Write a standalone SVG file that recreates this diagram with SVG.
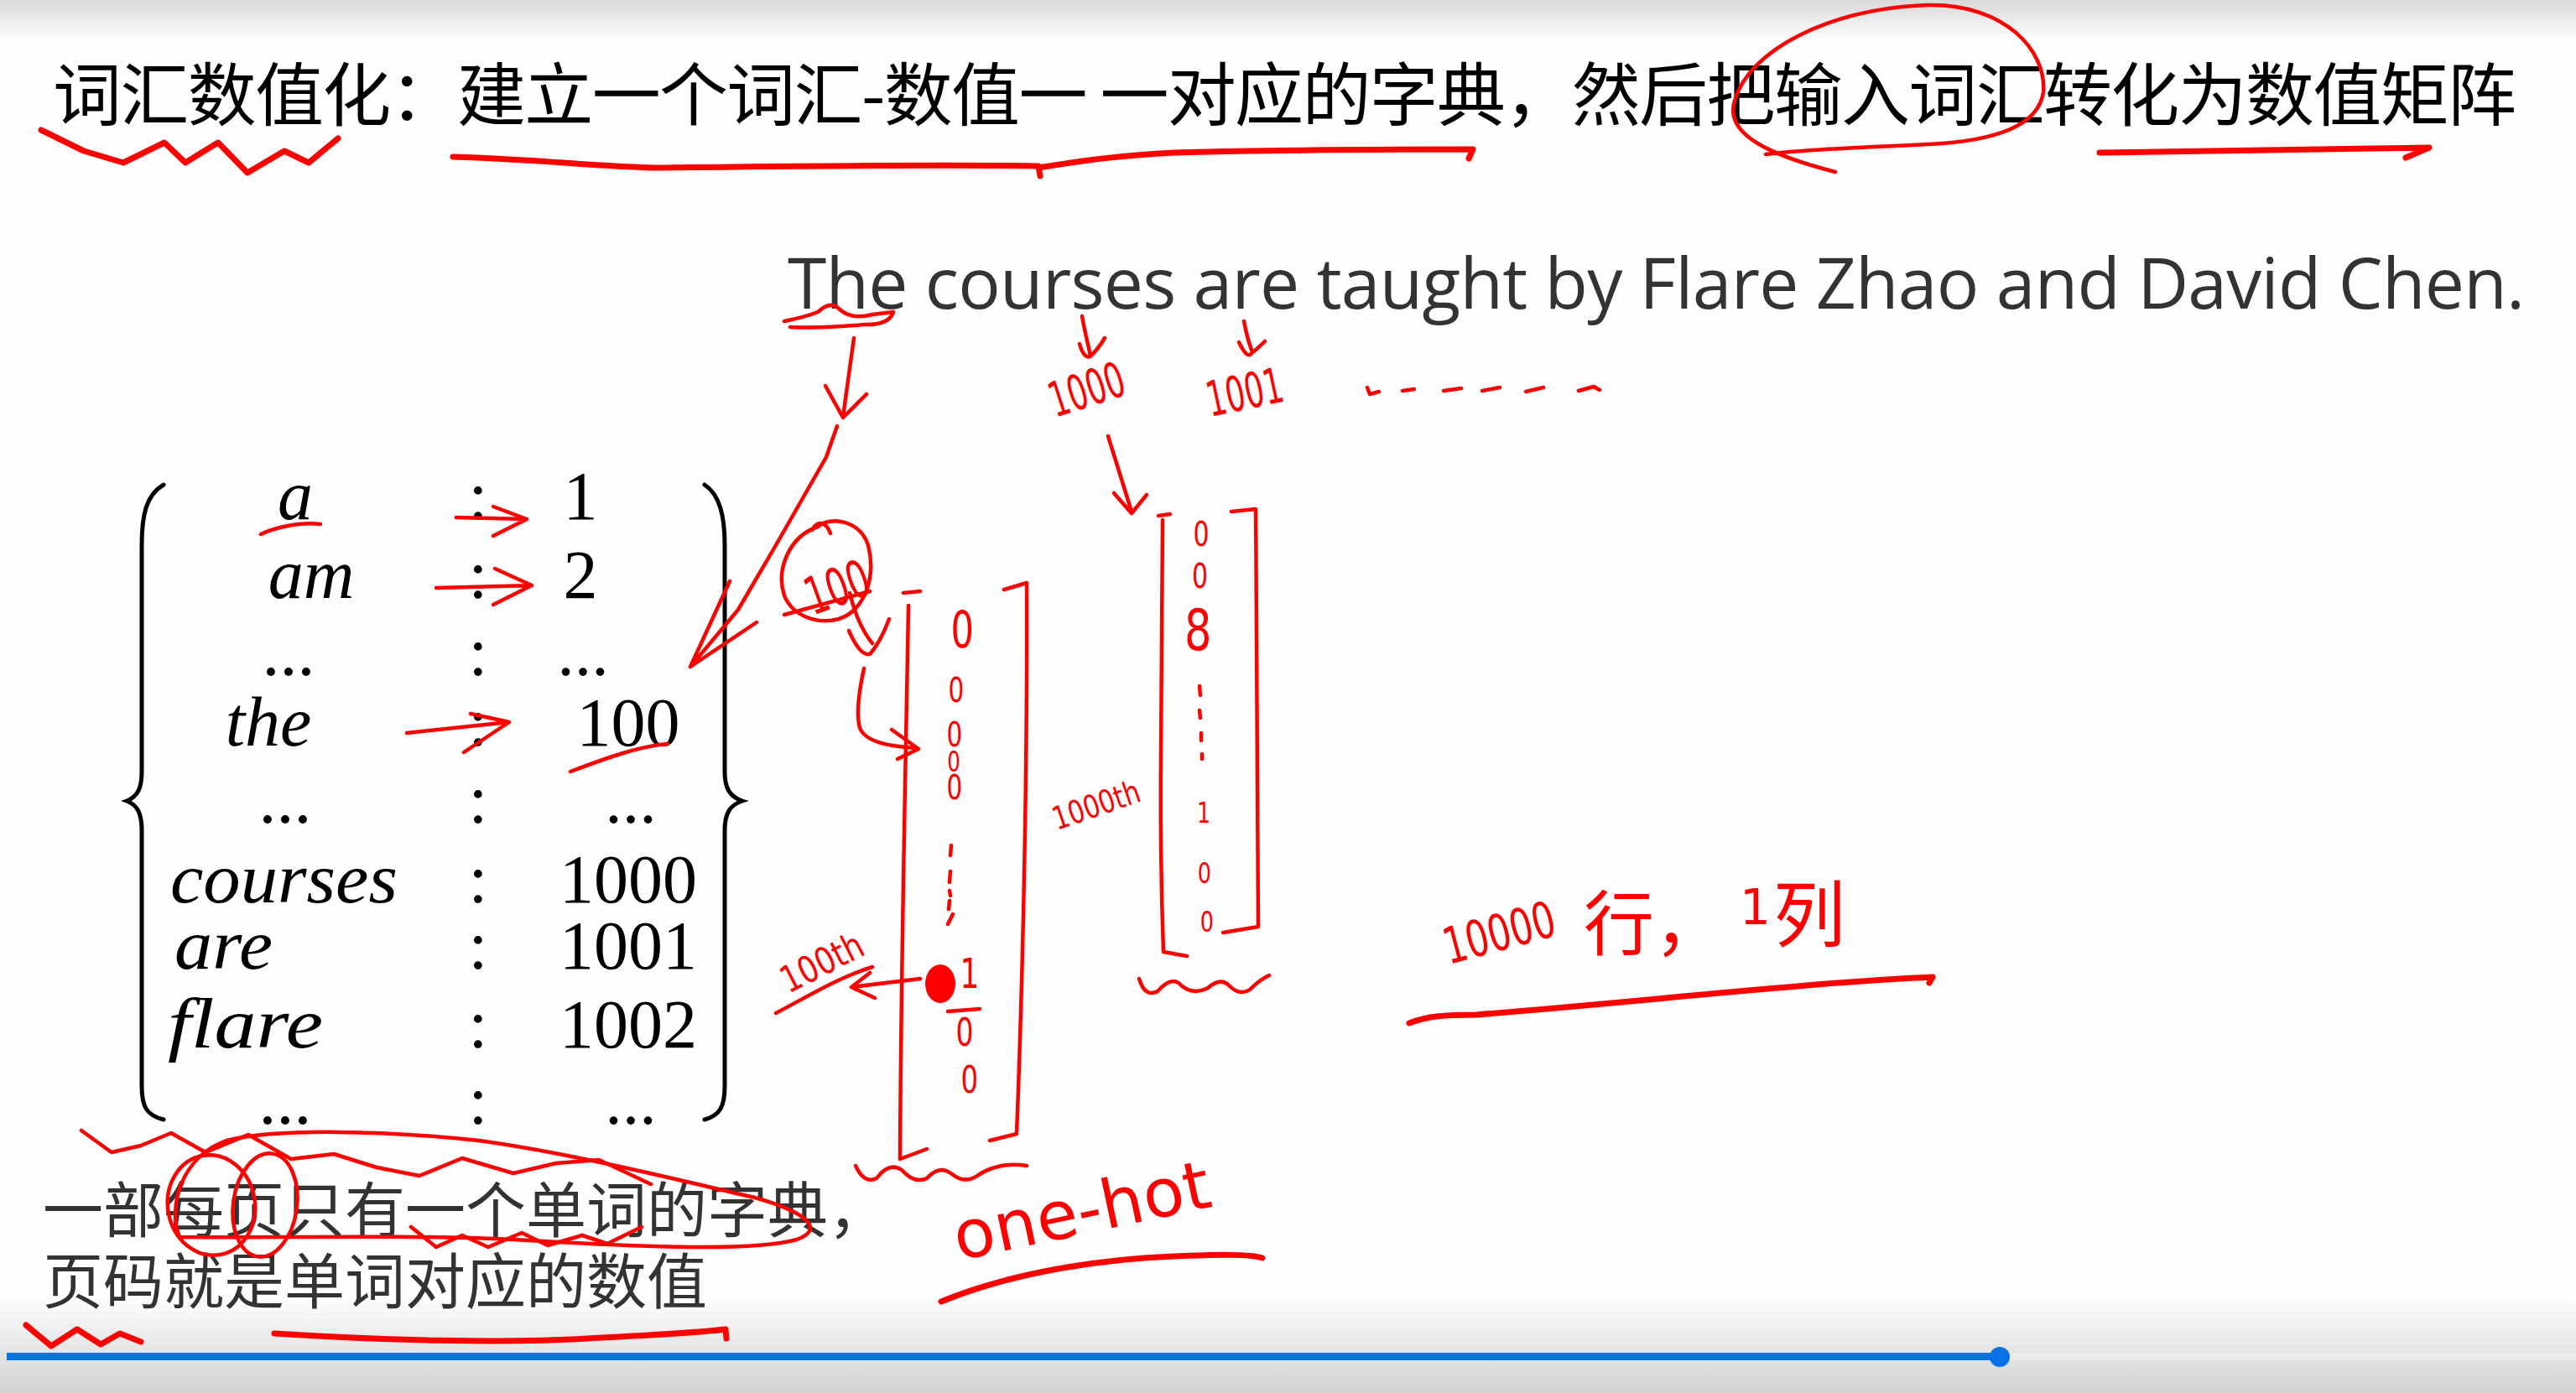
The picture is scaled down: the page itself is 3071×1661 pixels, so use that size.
<svg xmlns="http://www.w3.org/2000/svg" width="3071" height="1661" viewBox="0 0 3071 1661">
<defs>
<linearGradient id="gTop" x1="0" y1="0" x2="0" y2="1"><stop offset="0" stop-color="#d9d9d9"/><stop offset="1" stop-color="#fefefe"/></linearGradient>
<linearGradient id="gBot" x1="0" y1="0" x2="0" y2="1"><stop offset="0" stop-color="#fefefe"/><stop offset="1" stop-color="#d2d2d2"/></linearGradient>
<style>
.hw{fill:none;stroke:#f00;stroke-width:4.5;stroke-linecap:round;stroke-linejoin:round}
.hwb{fill:none;stroke:#f00;stroke-width:7;stroke-linecap:round;stroke-linejoin:round}
.ht{fill:#f00;font-family:"DejaVu Sans","Noto Sans CJK SC",sans-serif}
.cjk{font-family:"Noto Sans CJK SC",sans-serif}
.w{font-family:"Liberation Serif",serif;font-style:italic;font-size:84px;fill:#000}
.n{font-family:"Liberation Serif",serif;font-size:82px;fill:#000}
.br{fill:none;stroke:#000;stroke-width:5;stroke-linecap:round}
</style>
</defs>
<g id="background">
<rect width="3071" height="1661" fill="#fefefe"/>
<rect width="3071" height="48" fill="url(#gTop)"/>
<rect y="1545" width="3071" height="116" fill="url(#gBot)"/>
<rect x="2380" y="1613" width="691" height="9" fill="#ebebeb"/>
<rect x="8" y="1613" width="2376" height="9" fill="#0872e6"/>
<circle cx="2384" cy="1618" r="12" fill="#0872e6"/>
</g>
<g id="title">
<text x="63" y="143" class="cjk" font-size="82" fill="#000" textLength="2937" lengthAdjust="spacing">词汇数值化：建立一个词汇-数值一 一对应的字典，然后把输入词汇转化为数值矩阵</text>
</g>
<g id="sentence">
<text x="939" y="368" font-family="'Open Sans',sans-serif" font-size="84" fill="#333" textLength="2071" lengthAdjust="spacing">The courses are taught by Flare Zhao and David Chen.</text>
</g>
<g id="dictionary">
<path class="br" d="M195,578 C174,590 169,615 169,650 L169,920 C169,940 164,950 151,955 C164,960 169,970 169,990 L169,1295 C169,1320 175,1330 195,1335"/>
<path class="br" d="M840,578 C858,590 864,615 864,650 L864,920 C864,940 870,950 885,955 C870,960 864,970 864,990 L864,1295 C864,1320 858,1330 840,1335"/>
<text class="w" x="352" y="619" text-anchor="middle">a</text>
<text class="w" x="371" y="713" text-anchor="middle">am</text>
<text class="w" x="346" y="805" text-anchor="middle">...</text>
<text class="w" x="320" y="889" text-anchor="middle">the</text>
<text class="w" x="342" y="981" text-anchor="middle">...</text>
<text class="w" x="203" y="1076" textLength="271" lengthAdjust="spacingAndGlyphs">courses</text>
<text class="w" x="208" y="1155" textLength="117" lengthAdjust="spacingAndGlyphs">are</text>
<text class="w" x="200" y="1249" textLength="185" lengthAdjust="spacingAndGlyphs">flare</text>
<text class="w" x="342" y="1340" text-anchor="middle">...</text>
<g class="n" text-anchor="middle">
<text x="570" y="619">:</text><text x="570" y="713">:</text><text x="570" y="805">:</text><text x="570" y="889">:</text><text x="570" y="981">:</text><text x="570" y="1076">:</text><text x="570" y="1155">:</text><text x="570" y="1249">:</text><text x="570" y="1340">:</text>
<text x="692" y="619">1</text>
<text x="692" y="713">2</text>
<text x="695" y="805">...</text>
<text x="749" y="889">100</text>
<text x="752" y="981">...</text>
<text x="749" y="1076">1000</text>
<text x="749" y="1155">1001</text>
<text x="749" y="1249">1002</text>
<text x="752" y="1340">...</text>
</g>
</g>
<g id="bottom-text" class="cjk" font-size="72" fill="#333">
<text x="51" y="1469">一部每页只有一个单词的字典，</text>
<text x="51" y="1554">页码就是单词对应的数值</text>
</g>
<g id="annotations">
<path class="hwb" d="M49,155 L100,180 L147,194 L196,170 L221,194 L260,170 L295,206 L339,180 L368,194 L403,165"/>
<path class="hwb" d="M540,187 C650,190 720,200 790,200 C950,198 1100,196 1238,198 L1240,210 M1238,200 C1300,190 1340,185 1400,182 C1550,178 1650,178 1756,178 L1751,189"/>
<path class="hw" d="M2188,205 C2110,185 2055,160 2068,120 C2085,60 2180,10 2300,6 C2390,5 2440,60 2436,110 C2430,150 2380,168 2300,172 C2220,176 2150,178 2105,184"/>
<path class="hwb" d="M2503,182 C2600,180 2750,178 2896,176 L2868,188"/>
<path class="hw" d="M935,383 Q960,378 975,372 Q990,358 1000,368 Q1015,382 1040,375 L1065,372 Q1060,388 1030,387 Q980,392 942,390"/>
<path class="hw" d="M1018,403 L1005,497 M984,460 L1005,498 L1033,470"/>
<path class="hw" d="M998,508 L985,545 L965,580 L925,650 L880,727 L823,795 M870,693 L823,795 L902,742"/>
<path class="hw" d="M311,637 C330,628 360,622 382,625"/>
<path class="hw" d="M544,617 L628,619 M588,604 L628,619 L588,639"/>
<path class="hw" d="M520,701 L634,698 M590,678 L634,698 L588,721"/>
<path class="hw" d="M485,874 L607,861 M561,851 L607,861 L553,897"/>
<path class="hw" d="M680,920 C720,905 760,890 796,887"/>
<path class="hw" d="M975,628 C940,640 925,680 935,710 C945,735 975,745 1000,738 C1030,728 1045,690 1035,650 C1025,620 990,615 975,628 M968,632 C975,620 985,622 990,636"/>
<text class="ht" x="955" y="724" font-size="62" textLength="78" lengthAdjust="spacingAndGlyphs" transform="rotate(-20 990 690)">100</text>
<path class="hw" d="M935,733 L1037,705"/>
<path class="hw" d="M1013,707 C1020,735 1030,755 1040,767 M1012,752 Q1025,782 1037,780 Q1050,765 1060,738"/>
<path class="hw" d="M1030,797 C1025,820 1020,850 1025,868 C1032,885 1060,890 1093,892 M1063,870 L1095,893 L1070,905"/>
<path class="hw" d="M1077,707 L1097,705 M1083,722 C1080,900 1074,1150 1073,1382 L1105,1370"/>
<path class="hw" d="M1197,703 L1224,695 C1225,900 1220,1150 1212,1352 L1180,1360"/>
<text class="ht" text-anchor="middle" transform="translate(1140 0) scale(0.72 1)"><tspan x="10" y="772" font-size="60">0</tspan><tspan x="0" y="837" font-size="41">0</tspan><tspan x="-3" y="890" font-size="41">0</tspan><tspan x="-4" y="920" font-size="34">0</tspan><tspan x="-3" y="953" font-size="41">0</tspan><tspan x="22" y="1178" font-size="50">1</tspan><tspan x="14" y="1247" font-size="46">0</tspan><tspan x="22" y="1303" font-size="45">0</tspan></text>
<path class="hw" d="M1134,1008 L1133,1020 M1133,1039 L1132,1052 M1132,1062 L1133,1068 M1132,1074 L1131,1084 M1136,1090 L1130,1102"/>
<ellipse cx="1121" cy="1173" rx="18" ry="23" fill="#f00"/>
<path class="hw" d="M1130,1206 L1168,1203"/>
<text class="ht" x="940" y="1185" font-size="44" textLength="105" lengthAdjust="spacingAndGlyphs" transform="rotate(-27 940 1185)">100th</text>
<path class="hw" d="M925,1208 C960,1190 1000,1165 1040,1153"/>
<path class="hw" d="M1097,1167 L1015,1177 M1037,1160 L1015,1177 L1043,1190"/>
<path class="hw" d="M1290,377 C1293,395 1297,410 1300,424 M1287,410 Q1292,428 1300,425 Q1310,415 1317,403"/>
<text class="ht" x="1258" y="498" font-size="58" textLength="92" lengthAdjust="spacingAndGlyphs" transform="rotate(-18 1258 498)">1000</text>
<path class="hw" d="M1483,383 C1486,400 1490,412 1493,420 M1477,408 Q1485,425 1490,423 Q1500,415 1508,407"/>
<text class="ht" x="1443" y="497" font-size="58" textLength="92" lengthAdjust="spacingAndGlyphs" transform="rotate(-12 1443 497)">1001</text>
<path class="hw" d="M1630,462 L1633,470 L1644,467 M1672,466 L1686,464 M1721,466 L1742,463 M1767,466 L1788,462 M1819,467 L1840,462 M1882,466 L1900,461 L1907,465"/>
<path class="hw" d="M1321,520 L1349,610 M1328,588 L1349,612 L1367,590"/>
<path class="hw" d="M1381,615 L1395,613 M1386,620 L1384,900 C1383,1000 1385,1080 1387,1135 L1415,1140"/>
<path class="hw" d="M1468,610 L1497,607 C1499,800 1498,1000 1500,1105 L1458,1112"/>
<text class="ht" text-anchor="middle" transform="translate(1432 0) scale(0.75 1)"><tspan x="0" y="651" font-size="40">0</tspan><tspan x="-2" y="701" font-size="40">0</tspan><tspan x="-5" y="775" font-size="68">8</tspan><tspan x="4" y="981" font-size="34">1</tspan><tspan x="5" y="1053" font-size="34">0</tspan><tspan x="9" y="1111" font-size="34">0</tspan></text>
<path class="hw" d="M1430,818 L1431,829 M1430,847 L1431,856 M1432,874 L1432,883 M1433,899 L1433,905"/>
<text class="ht" x="1260" y="990" font-size="38" textLength="108" lengthAdjust="spacingAndGlyphs" transform="rotate(-19 1260 990)">1000th</text>
<path class="hw" d="M1358,1167 Q1365,1190 1380,1182 Q1395,1165 1405,1172 Q1420,1188 1440,1178 Q1455,1165 1465,1175 Q1478,1188 1490,1180 Q1502,1168 1513,1163"/>
<path class="hw" d="M1020,1390 Q1030,1412 1045,1405 Q1060,1385 1075,1395 Q1090,1412 1105,1405 Q1120,1388 1135,1400 Q1150,1412 1165,1402 Q1190,1385 1224,1390"/>
<text class="ht" x="1143" y="1503" font-size="80" textLength="311" lengthAdjust="spacing" transform="rotate(-12 1143 1503)">one-hot</text>
<path class="hwb" d="M1122,1552 C1200,1520 1300,1502 1400,1498 C1450,1496 1490,1495 1505,1500"/>
<text class="ht" x="1727" y="1150" font-size="60" textLength="136" lengthAdjust="spacingAndGlyphs" transform="rotate(-15 1727 1150)">10000</text>
<text class="ht"><tspan x="1888" y="1132" font-size="84">行，</tspan><tspan x="2074" y="1102" font-size="58">1</tspan><tspan x="2114" y="1122" font-size="86">列</tspan></text>
<path class="hwb" d="M1680,1220 C1700,1212 1720,1210 1760,1210 C1950,1195 2150,1172 2304,1165 L2300,1172"/>
<path class="hw" d="M214,1475 C200,1440 215,1380 270,1360 C330,1345 460,1348 571,1360 C680,1375 800,1405 900,1428 C960,1445 985,1465 950,1478 C900,1492 780,1488 612,1478 C480,1472 330,1476 214,1475"/>
<ellipse class="hw" cx="252" cy="1437" rx="52" ry="60" transform="rotate(-10 252 1437)"/>
<ellipse class="hw" cx="316" cy="1437" rx="38" ry="62" transform="rotate(8 316 1437)"/>
<path class="hw" d="M97,1348 L133,1374 L168,1366 L204,1351 L245,1374 L296,1353 L347,1382 L398,1376 L449,1392 L500,1402 L551,1381 L612,1399 L663,1387 L714,1383 L776,1412"/>
<path class="hw" d="M490,1463 L520,1487 L551,1473 L582,1487 L622,1470 L653,1485 L694,1473 L724,1483 L765,1463"/>
<path class="hwb" d="M31,1580 L61,1605 L92,1585 L120,1603 L143,1590 L168,1600"/>
<path class="hwb" d="M327,1590 C450,1598 600,1602 700,1596 C780,1592 840,1588 865,1585 L866,1596"/>
</g>
</svg>
